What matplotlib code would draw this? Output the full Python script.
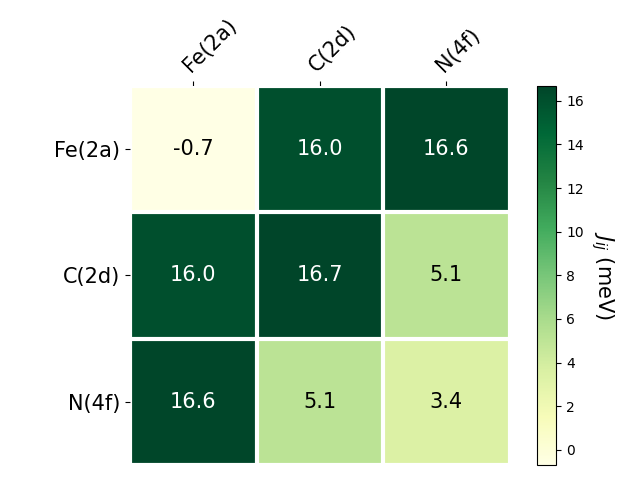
import numpy as np
import matplotlib
matplotlib.use("Agg")
import matplotlib.pyplot as plt

# данни
sites = ["Fe(2a)", "C(2d)", "N(4f)"]
J = np.array([[-0.7, 16.0, 16.6],
              [16.0, 16.7, 5.1],
              [16.6, 5.1, 3.4]])

fig, ax = plt.subplots(figsize=(6.4, 4.8), dpi=100)
im = ax.imshow(J, cmap="YlGn")

cbar = fig.colorbar(im, ax=ax)
cbar.ax.set_ylabel("$J_{ij}$ (meV)", rotation=-90, va="bottom", fontsize=15)

ax.set_xticks(np.arange(len(sites)), labels=sites, fontsize=15)
ax.set_yticks(np.arange(len(sites)), labels=sites, fontsize=15)
ax.tick_params(top=True, bottom=False, labeltop=True, labelbottom=False)
plt.setp(ax.get_xticklabels(), rotation=45, ha="left", rotation_mode="anchor")

for s in ax.spines.values():
    s.set_visible(False)
ax.set_xticks(np.arange(J.shape[1] + 1) - .5, minor=True)
ax.set_yticks(np.arange(J.shape[0] + 1) - .5, minor=True)
ax.grid(which="minor", color="w", linestyle="-", linewidth=3)
ax.tick_params(which="minor", bottom=False, left=False, top=False)

thr = im.norm(J.max()) / 2.
for i in range(J.shape[0]):
    for j in range(J.shape[1]):
        c = "white" if im.norm(J[i, j]) > thr else "black"
        ax.text(j, i, f"{J[i, j]:.1f}", ha="center", va="center", color=c, fontsize=15)

fig.tight_layout()
fig.savefig("out.png")
